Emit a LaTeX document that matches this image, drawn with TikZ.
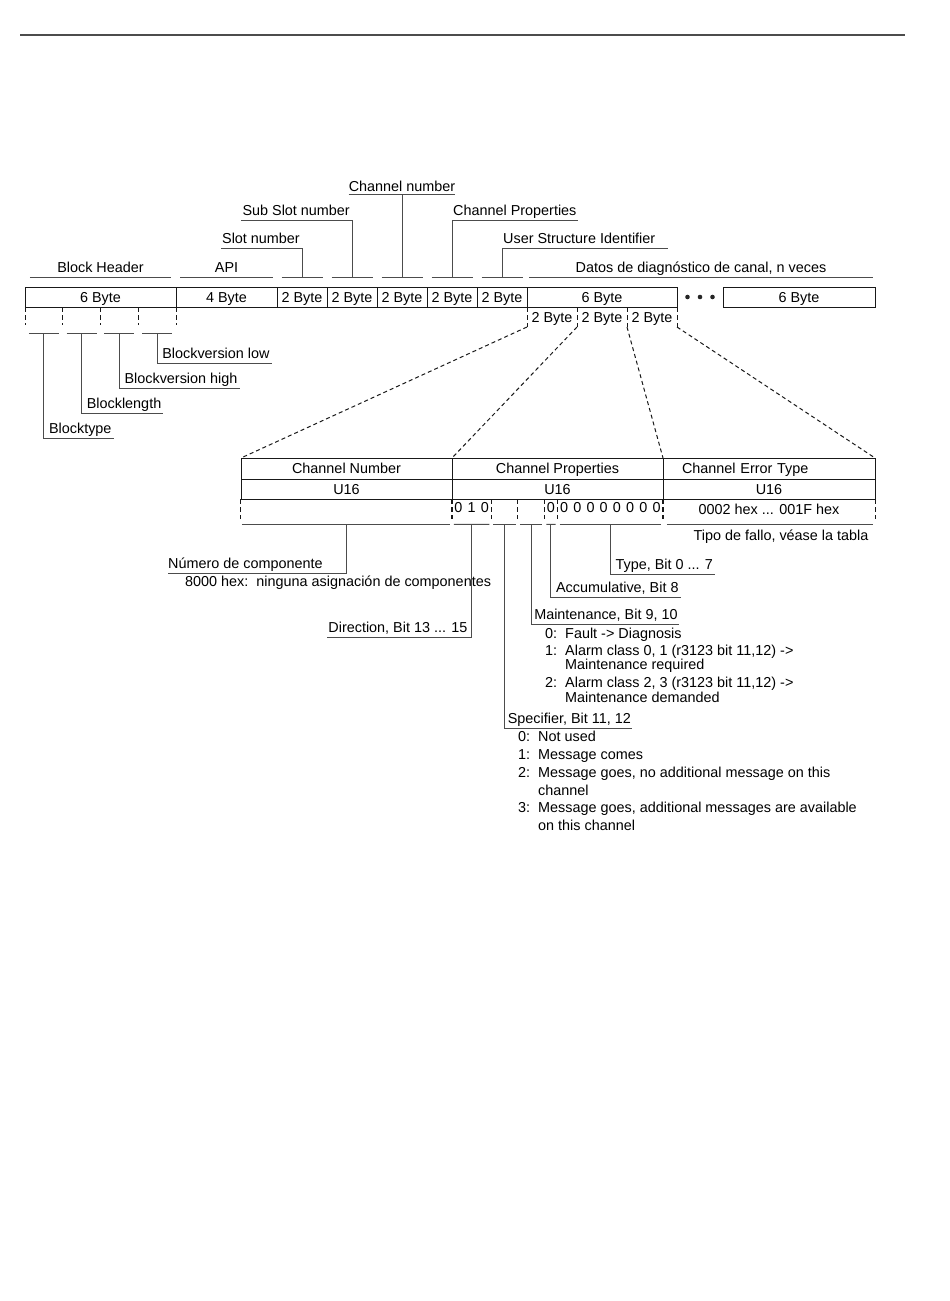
\documentclass[tikz,border=0pt]{standalone}
\usepackage{fontspec}
\setmainfont{Liberation Sans}
\usetikzlibrary{positioning,calc}

\begin{document}
\begin{tikzpicture}[x=1pt,y=-1pt,
        font=\fontsize{14.4}{17}\selectfont,
        every node/.style={text=black},
        fieldbox/.style={draw=black!90,line width=1pt,minimum height=20pt,inner sep=0pt,outer sep=0pt,
            text height=10pt,text depth=0pt},
        leadline/.style={draw=black!70,line width=0.9pt},
        cutline/.style={draw=black!90,line width=1pt,dash pattern=on 5pt off 3pt},
        fanline/.style={draw=black!90,line width=1pt,dash pattern=on 4pt off 3pt},
        tagline/.style={inner xsep=0pt,inner ysep=4pt,text depth=0pt},
        txt/.style={anchor=base west,inner sep=0pt}]
    \useasboundingbox (0,0) rectangle (950,1301);

    % Page rule
    \draw[black!70,line width=1.5pt] (20,35) -- (905,35);

    % Draw the record, field by field
    \node[fieldbox,minimum width=151pt,anchor=north west] (hdr) at (25,287) {6 Byte};
    \node[fieldbox,minimum width=101pt,right=0pt of hdr] (api) {4 Byte};
    \node[fieldbox,minimum width=50pt,right=0pt of api] (slot) {2 Byte};
    \node[fieldbox,minimum width=50pt,right=0pt of slot] (subslot) {2 Byte};
    \node[fieldbox,minimum width=50pt,right=0pt of subslot] (chnum) {2 Byte};
    \node[fieldbox,minimum width=50pt,right=0pt of chnum] (chprop) {2 Byte};
    \node[fieldbox,minimum width=50pt,right=0pt of chprop] (usi) {2 Byte};
    \node[fieldbox,minimum width=150pt,right=0pt of usi] (diag) {6 Byte};
    \node[fieldbox,minimum width=152pt,anchor=north west] (diagn) at (723,287) {6 Byte};
    \foreach \dx in {-12.5,0,12.5}
        \fill[black!85] ($(diag.east)!0.5!(diagn.west)+(\dx,0)$) circle (2.3pt);

    % Labels above the record
    \node[tagline,anchor=south,minimum width=141pt] (hdrlbl) at ([yshift=10pt]hdr.north) {Block Header};
    \node[tagline,anchor=south,minimum width=92pt] (apilbl) at ([yshift=10pt]api.north) {API};
    \coordinate (datamid) at ($(diag.north west)!0.5!(diagn.north east)+(0,-10)$);
    \node[tagline,anchor=south,minimum width=343pt] (datalbl) at (datamid) {Datos de diagnóstico de canal, n veces};
    \foreach \n in {hdrlbl,apilbl,datalbl}
        \draw[leadline] (\n.south west) -- (\n.south east);

    \foreach \f in {slot,subslot,chnum,chprop,usi} {
        \coordinate (\f-t) at ([yshift=10pt]\f.north);
        \draw[leadline] ([xshift=-20.5pt]\f-t) -- ([xshift=20.5pt]\f-t);
    }
    \node[tagline,anchor=south east,xshift=-2pt] (slotlbl) at (slot-t |- 0,248) {Slot number};
    \draw[leadline] (slot-t) |- ([xshift=-1pt]slotlbl.south west);
    \node[tagline,anchor=south east,xshift=-2pt] (subslotlbl) at (subslot-t |- 0,220) {Sub Slot number};
    \draw[leadline] (subslot-t) |- ([xshift=-1pt]subslotlbl.south west);
    \node[tagline,anchor=south,inner ysep=2.5pt] (chnumlbl) at (chnum-t |- 0,194) {Channel number};
    \draw[leadline] (chnum-t) -- (chnumlbl.south) (chnumlbl.south west) -- (chnumlbl.south east);
    \node[tagline,anchor=south west,xshift=1pt] (chproplbl) at (chprop-t |- 0,220) {Channel Properties};
    \draw[leadline] (chprop-t) |- ([xshift=1pt]chproplbl.south east);
    \node[tagline,anchor=south west,xshift=1pt] (usilbl) at (usi-t |- 0,248) {User Structure Identifier};
    \draw[leadline] (usi-t) |- ([xshift=13pt]usilbl.south east);

    % Split of the block header
    \foreach \i in {0,...,4}
        \draw[cutline] ($(hdr.south west)!\i/4!(hdr.south east)$) -- ++(0,18);
    \foreach \i/\n in {0/btype,1/blen,2/bvhigh,3/bvlow} {
        \coordinate (\n) at ($(hdr.south west)!{(\i+0.5)/4}!(hdr.south east)+(0,26)$);
        \draw[leadline] ($(\n)+(-15,0)$) -- ($(\n)+(15,0)$);
    }
    \node[tagline,anchor=south west,xshift=5pt] (bvlowlbl) at (bvlow |- 0,363) {Blockversion low};
    \draw[leadline] (bvlow) |- ([xshift=2pt]bvlowlbl.south east);
    \node[tagline,anchor=south west,xshift=5pt] (bvhighlbl) at (bvhigh |- 0,388) {Blockversion high};
    \draw[leadline] (bvhigh) |- ([xshift=2pt]bvhighlbl.south east);
    \node[tagline,anchor=south west,xshift=5pt] (blenlbl) at (blen |- 0,413) {Blocklength};
    \draw[leadline] (blen) |- ([xshift=2pt]blenlbl.south east);
    \node[tagline,anchor=south west,xshift=5pt] (btypelbl) at (btype |- 0,438) {Blocktype};
    \draw[leadline] (btype) |- ([xshift=2pt]btypelbl.south east);

    % Split of the first diagnosis entry
    \foreach \i in {0,...,3}
        \draw[cutline] ($(diag.south west)!\i/3!(diag.south east)$) -- ++(0,20) coordinate (d\i);
    \foreach \i in {1,2,3}
        \node[text height=10pt,text depth=0pt] (part\i) at ($(diag.south west)!{(\i-0.5)/3}!(diag.south east)+(0,10)$) {2 Byte};

    % Channel diagnosis entry
    \node[fieldbox,minimum width=211pt,minimum height=21pt,anchor=north west] (cnname) at (241,458) {Channel Number};
    \node[fieldbox,minimum width=211pt,minimum height=21pt,right=0pt of cnname] (cpname) {Channel Properties};
    \node[fieldbox,minimum width=212pt,minimum height=21pt,right=0pt of cpname,inner xsep=19pt,text width=174pt,align=left] (etname) {Channel Error Type};
    \node[fieldbox,minimum width=211pt,below=0pt of cnname] (cntype) {U16};
    \node[fieldbox,minimum width=211pt,below=0pt of cpname] (cptype) {U16};
    \node[fieldbox,minimum width=212pt,below=0pt of etname] (ettype) {U16};
    \node[minimum width=211pt,minimum height=20pt,inner sep=0pt,below=0pt of cntype] (cnval) {};
    \node[minimum width=211pt,minimum height=20pt,inner sep=0pt,below=0pt of cptype] (cpval) {};
    \node[minimum width=212pt,minimum height=20pt,inner sep=0pt,text height=10pt,text depth=0pt,below=0pt of ettype] (etval) {0002 hex ... 001F hex};
    \foreach \v in {cnval,cpval,etval}
        \draw[cutline] (\v.north west) -- (\v.south west) (\v.north east) -- (\v.south east);

    \draw[fanline] (d0) -- (cnname.north west);
    \draw[fanline] (d1) -- (cpname.north west);
    \draw[fanline] (d2) -- (etname.north west);
    \draw[fanline] (d3) -- (etname.north east);

    % Bits of the channel properties
    \foreach \k in {3,5,7,8}
        \draw[cutline] ($(cpval.north west)!\k/16!(cpval.north east)$) -- ++(0,20);
    \foreach \k/\b in {0/0,1/1,2/0,7/0,8/0,9/0,10/0,11/0,12/0,13/0,14/0,15/0}
        \node[inner sep=0pt] (bit\k) at ($(cpval.west)!{(\k+0.5)/16}!(cpval.east)+(0,-2)$) {\b};
    \foreach \g/\s/\e in {dir/0/3,spec/3/5,maint/5/7,acc/7/8,type/8/16} {
        \coordinate (\g) at ($(cpval.south west)!{(\s+\e)/32}!(cpval.south east)+(0,5)$);
        \draw[leadline] ($(cpval.south west)!\s/16!(cpval.south east)+(2,5)$) -- ($(cpval.south west)!\e/16!(cpval.south east)+(-2,5)$);
    }
    \coordinate (cn) at ($(cnval.south)+(0,5)$);
    \draw[leadline] ($(cnval.south west)+(1,5)$) -- ($(cnval.south east)+(-2,5)$);
    \draw[leadline] ($(etval.south west)+(4,5)$) -- ($(etval.south east)+(-2,5)$);
    \node[anchor=base,inner sep=0pt] (etnote) at ($(etval.south)+(12,21)$) {Tipo de fallo, véase la tabla};

    % Meaning of the fields
    \node[tagline,anchor=south west] (cnlbl) at (168,573) {Número de componente};
    \draw[leadline] (cn) |- (cnlbl.south west);
    \node[txt] (cnnote) at ([xshift=17pt,yshift=-18pt]cnlbl.base west) {8000 hex:\ \ ninguna asignación de componentes};

    \node[tagline,anchor=south east,xshift=-4pt] (dirlbl) at (dir |- 0,637) {Direction, Bit 13 ... 15};
    \draw[leadline] (dir) |- ([xshift=-1pt]dirlbl.south west);

    \node[tagline,anchor=south west,xshift=5pt] (typelbl) at (type |- 0,574) {Type, Bit 0 ... 7};
    \draw[leadline] (type) |- ([xshift=2pt]typelbl.south east);
    \node[tagline,anchor=south west,xshift=5pt] (acclbl) at (acc |- 0,597) {Accumulative, Bit 8};
    \draw[leadline] (acc) |- ([xshift=2pt]acclbl.south east);

    \node[tagline,anchor=south west,xshift=3pt] (maintlbl) at (maint |- 0,624) {Maintenance, Bit 9, 10};
    \draw[leadline] (maint) |- ([xshift=1pt]maintlbl.south east);
    \node[txt] (maint0) at (545,638) {0:\ \ Fault -> Diagnosis};
    \node[txt] (maint1) at (545,655) {1:\ \ Alarm class 0, 1 (r3123 bit 11,12) ->};
    \node[txt] (maint1b) at (565,669.5) {Maintenance required};
    \node[txt] (maint2) at (545,687) {2:\ \ Alarm class 2, 3 (r3123 bit 11,12) ->};
    \node[txt] (maint2b) at (565,702) {Maintenance demanded};

    \node[tagline,anchor=south west,xshift=3pt] (speclbl) at (spec |- 0,728) {Specifier, Bit 11, 12};
    \draw[leadline] (spec) |- ([xshift=1pt]speclbl.south east);
    \node[txt] (spec0) at (518,741) {0:\ \ Not used};
    \node[txt] (spec1) at (518,759) {1:\ \ Message comes};
    \node[txt] (spec2) at (518,777) {2:\ \ Message goes, no additional message on this};
    \node[txt] (spec2b) at (538,795) {channel};
    \node[txt] (spec3) at (518,812) {3:\ \ Message goes, additional messages are available};
    \node[txt] (spec3b) at (538,830) {on this channel};
\end{tikzpicture}
\end{document}
